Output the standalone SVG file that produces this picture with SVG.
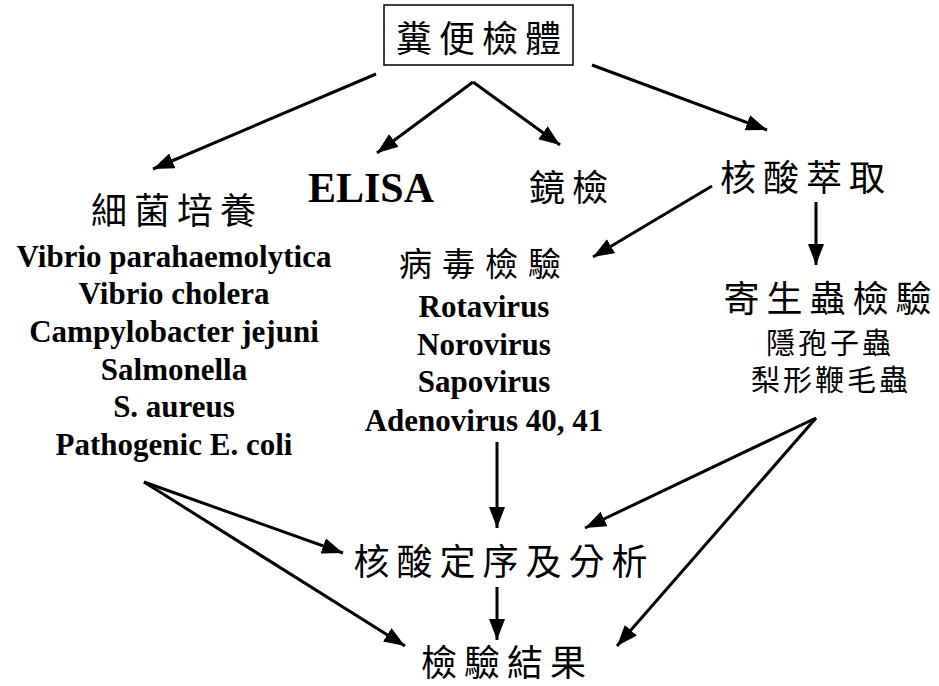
<svg xmlns="http://www.w3.org/2000/svg" width="939" height="686" viewBox="0 0 939 686">
<style>
.cjk{font-family:"Noto Sans CJK TC","Noto Sans CJK SC",sans-serif;fill:#000;text-anchor:middle}
.big{font-size:36px;letter-spacing:7px}
.small{font-size:29px;letter-spacing:3px}
.lat{font-family:"Liberation Serif","Times New Roman",serif;font-weight:bold;font-size:31px;fill:#000;text-anchor:middle}
.conn line{stroke:#000;stroke-width:3;marker-end:url(#ah)}
</style>
<defs>
<marker id="ah" markerUnits="userSpaceOnUse" markerWidth="22" markerHeight="18" refX="21" refY="8" orient="auto">
<path d="M0,0 L21,8 L0,16 z" fill="#000"/>
</marker>
</defs>
<rect width="939" height="686" fill="#fff"/>
<g id="specimen">
<rect x="384" y="5" width="189" height="60" fill="#fff" stroke="#000" stroke-width="1.5"/>
<text class="cjk big" x="482" y="52">糞便檢體</text>
</g>
<g id="bacteria">
<text class="cjk big" x="177" y="224">細菌培養</text>
<text class="lat" x="174" y="267">Vibrio parahaemolytica</text>
<text class="lat" x="174" y="304">Vibrio cholera</text>
<text class="lat" x="174" y="342">Campylobacter jejuni</text>
<text class="lat" x="174" y="380">Salmonella</text>
<text class="lat" x="174" y="417">S. aureus</text>
<text class="lat" x="174" y="455">Pathogenic E. coli</text>
</g>
<g id="elisa">
<text class="lat" x="371" y="202" style="font-size:42px">ELISA</text>
</g>
<g id="microscopy">
<text class="cjk big" x="572" y="201">鏡檢</text>
</g>
<g id="extraction">
<text class="cjk big" x="806" y="191">核酸萃取</text>
</g>
<g id="virus">
<text class="cjk big" x="485" y="276" style="font-size:33px;letter-spacing:10px">病毒檢驗</text>
<text class="lat" x="484" y="317">Rotavirus</text>
<text class="lat" x="484" y="355">Norovirus</text>
<text class="lat" x="484" y="392">Sapovirus</text>
<text class="lat" x="484" y="431">Adenovirus 40, 41</text>
</g>
<g id="parasite">
<text class="cjk big" x="831" y="312">寄生蟲檢驗</text>
<text class="cjk small" x="830" y="354">隱孢子蟲</text>
<text class="cjk small" x="831" y="391">梨形鞭毛蟲</text>
</g>
<g id="sequencing">
<text class="cjk big" x="504" y="575">核酸定序及分析</text>
</g>
<g id="result">
<text class="cjk big" x="507" y="676">檢驗結果</text>
</g>
<g class="conn" id="connectors">
<line x1="376" y1="74" x2="153" y2="169"/>
<line x1="473" y1="82" x2="377" y2="153"/>
<line x1="473" y1="82" x2="560" y2="145"/>
<line x1="592" y1="65" x2="767" y2="130"/>
<line x1="712" y1="186" x2="593" y2="257"/>
<line x1="816" y1="202" x2="816" y2="265"/>
<line x1="497" y1="442" x2="497" y2="528"/>
<line x1="144" y1="482" x2="343" y2="553"/>
<line x1="144" y1="482" x2="405" y2="646"/>
<line x1="816" y1="418" x2="585" y2="528"/>
<line x1="816" y1="418" x2="617" y2="646"/>
<line x1="497" y1="587" x2="497" y2="640"/>
</g>
</svg>
